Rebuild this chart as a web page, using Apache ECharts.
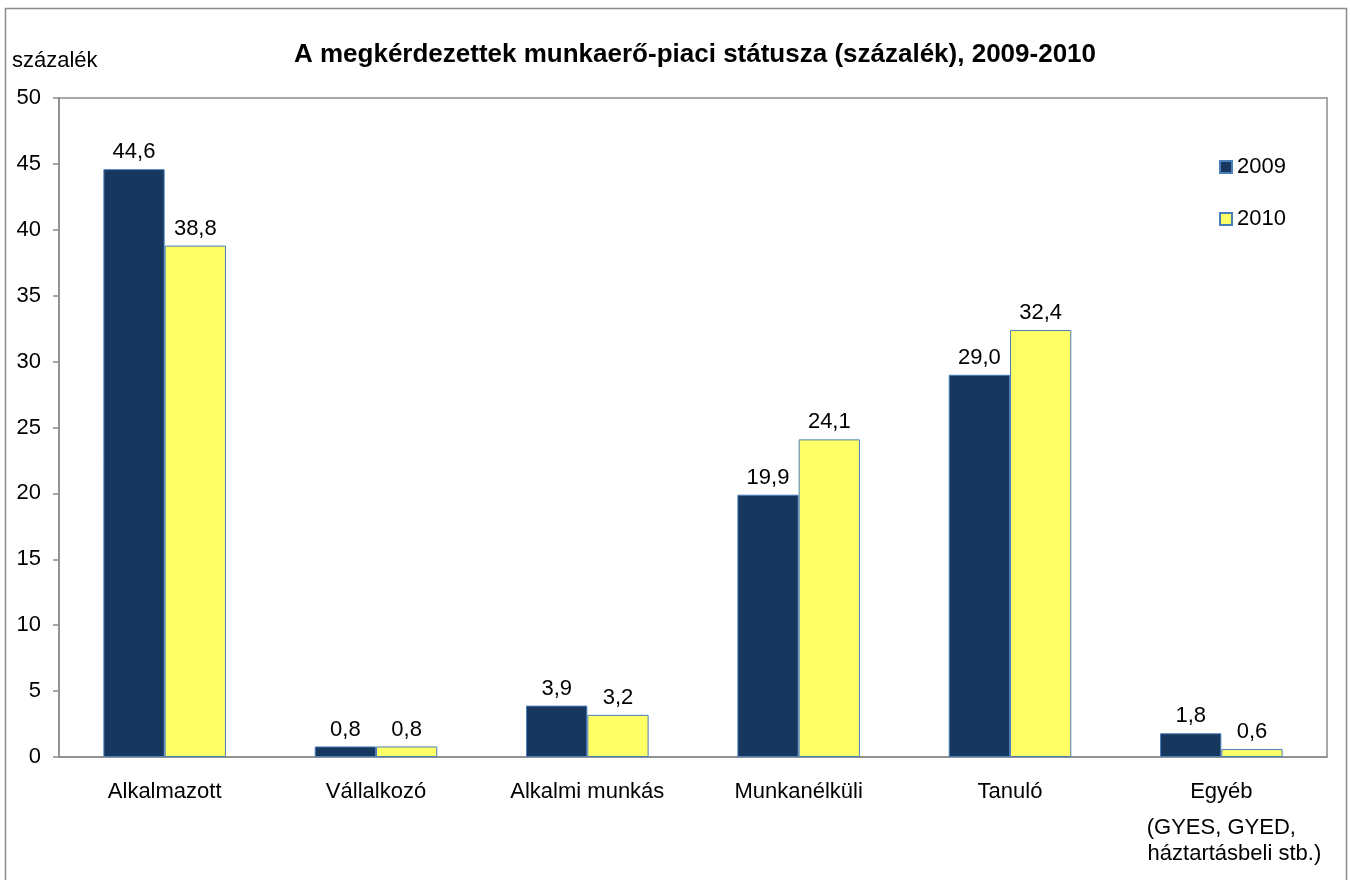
<!DOCTYPE html>
<html>
<head>
<meta charset="utf-8">
<script src="https://cdn.jsdelivr.net/npm/echarts@6/dist/echarts.min.js"></script>
<style>
  html, body { margin: 0; padding: 0; background: #fff; }
  #main { width: 1350px; height: 880px; }
</style>
</head>
<body>
<div id="main"></div>
<script>
var categories = ['Alkalmazott', 'Vállalkozó', 'Alkalmi munkás', 'Munkanélküli', 'Tanuló', 'Egyéb\n(GYES, GYED,\n háztartásbeli stb.)']
var values2009 = [44.6, 0.8, 3.9, 19.9, 29.0, 1.8]
var values2010 = [38.8, 0.8, 3.2, 24.1, 32.4, 0.6]
var yTicks = [0, 5, 10, 15, 20, 25, 30, 35, 40, 45, 50]

var font = 'Liberation Sans, Arial, sans-serif'
var myChart = echarts.init(document.getElementById('main'))

// 44.6 -> "44,6"
function fmt(p) {
  return p.value.toFixed(1).replace('.', ',')
}

var option = {
  animation: false,
  textStyle: { fontFamily: font },
  title: {
    text: 'A megkérdezettek munkaerő-piaci státusza (százalék), 2009-2010',
    left: 690,
    textAlign: 'center',
    top: 37,
    textStyle: { fontFamily: font, fontSize: 26, fontWeight: 'bold', color: '#000' }
  },
  graphic: [
    {
      type: 'rect',
      shape: { x: 5.5, y: 8.5, width: 1341, height: 880 },
      style: { fill: 'none', stroke: '#8c8c8c', lineWidth: 1.5 }
    },
    {
      type: 'text',
      left: 12,
      top: 50,
      style: { text: 'százalék', font: '22px ' + font, fill: '#000' }
    }
  ],
  legend: {
    orient: 'vertical',
    left: 1219,
    top: 156,
    padding: 0,
    itemGap: 30,
    itemWidth: 12,
    itemHeight: 12,
    icon: 'rect',
    textStyle: { fontFamily: font, fontSize: 22, color: '#000' },
    data: ['2009', '2010']
  },
  grid: {
    left: 59,
    right: 23,
    top: 98,
    bottom: 123,
    show: true,
    borderColor: '#8c8c8c',
    borderWidth: 1.5
  },
  xAxis: {
    type: 'category',
    data: categories,
    axisLine: { lineStyle: { color: '#8c8c8c', width: 1.5 } },
    axisTick: { show: false },
    axisLabel: {
      fontFamily: font,
      fontSize: 22,
      color: '#000',
      margin: 15,
      lineHeight: 40,
      interval: 0,
      formatter: function (v) {
        var lines = v.split('\n')
        return lines.map(function (s, i) { return i === 0 ? s : '{l' + i + '|' + s + '}' }).join('\n')
      },
      rich: {
        l1: { fontFamily: font, fontSize: 22, color: '#000', lineHeight: 32 },
        l2: { fontFamily: font, fontSize: 22, color: '#000', lineHeight: 20, padding: [0, 0, 0, 20] }
      }
    }
  },
  yAxis: {
    type: 'value',
    min: 0,
    max: 50,
    interval: 5,
    splitLine: { show: false },
    axisLine: { show: true, lineStyle: { color: '#8c8c8c', width: 1.5 } },
    axisTick: { show: true, length: 6, lineStyle: { color: '#8c8c8c', width: 1.5 } },
    axisLabel: {
      fontFamily: font,
      fontSize: 22,
      color: '#000',
      margin: 18,
      formatter: function (v) { return yTicks.indexOf(v) >= 0 ? String(v) : '' }
    }
  },
  series: [
    {
      name: '2009',
      type: 'bar',
      data: values2009,
      barGap: '0%',
      barCategoryGap: '42%',
      itemStyle: { color: '#17375e', borderColor: '#4a7ebb', borderWidth: 1 },
      label: {
        show: true,
        position: 'top',
        distance: 6,
        formatter: fmt,
        fontFamily: font,
        fontSize: 22,
        color: '#000'
      }
    },
    {
      name: '2010',
      type: 'bar',
      data: values2010,
      itemStyle: { color: '#ffff66', borderColor: '#4a7ebb', borderWidth: 1 },
      label: {
        show: true,
        position: 'top',
        distance: 6,
        formatter: fmt,
        fontFamily: font,
        fontSize: 22,
        color: '#000'
      }
    }
  ]
}
myChart.setOption(option)
</script>
</body>
</html>
